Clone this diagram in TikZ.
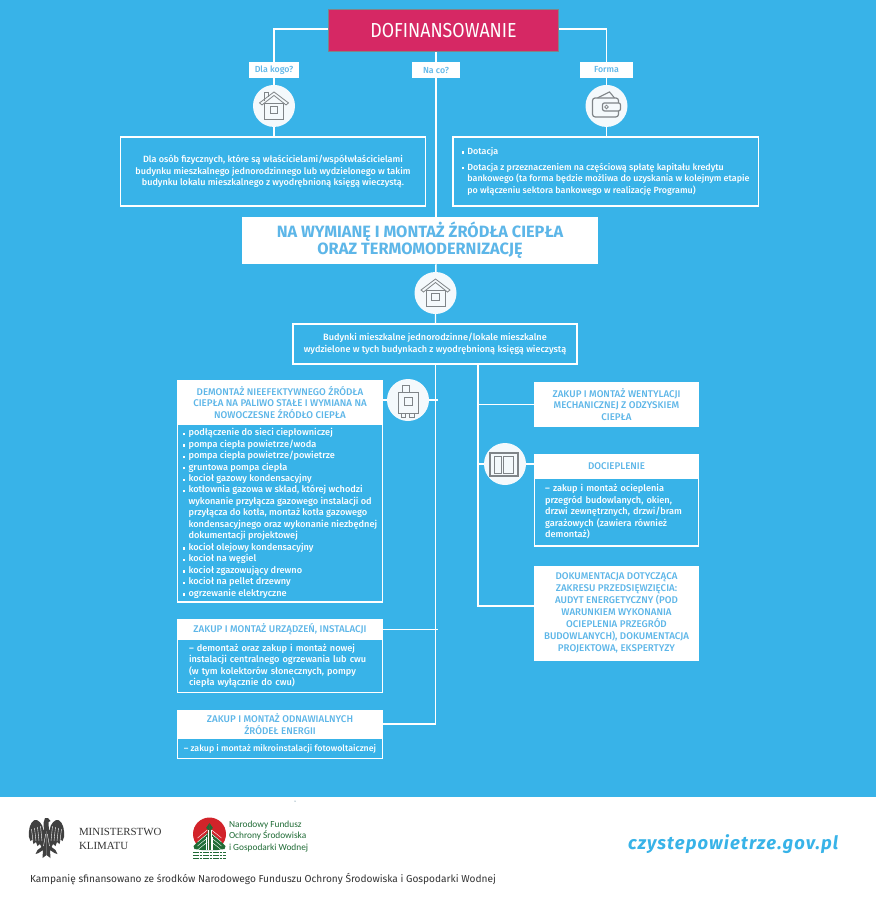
\documentclass[tikz,border=0pt]{standalone}
\usepackage{fontspec}
\setmainfont{Fira Sans}
\newfontfamily\medfont{Fira Sans Medium}
\newfontfamily\titlefont[FakeStretch=0.88]{Fira Sans}
\newfontfamily\urlfont[LetterSpace=6]{Fira Sans}
\newfontfamily\minfont{Liberation Serif}
\newfontfamily\fundfont{Carlito}
\usetikzlibrary{positioning}
\definecolor{sky}{HTML}{38B3E8}
\definecolor{capsblue}{HTML}{5DB6E8}
\definecolor{berry}{HTML}{D62864}
\definecolor{icongray}{HTML}{7F8488}
\definecolor{iconfill}{HTML}{F4F9FC}
\definecolor{fundgreen}{HTML}{1F6B35}
\definecolor{fundred}{HTML}{D2232A}
\newcommand{\itm}{\rule[0.4pt]{1.7pt}{1.7pt}\hspace{2.6pt}}
\newcommand{\hang}{\hspace{4.3pt}}
\tikzset{
    pics/homeicon/.style={code={
        \draw[icongray, line width=0.6pt] (-9.5,-13) rectangle (9.5,3);
        \fill[iconfill] (-14.5,3) -- (0,14) -- (14.5,3) -- (12,1) -- (0,10.5) -- (-12,1) -- cycle;
        \draw[icongray, line width=0.6pt] (-14.5,3) -- (0,14) -- (14.5,3) -- (12,1) -- (0,10.5) -- (-12,1) -- cycle;
        \draw[icongray, line width=0.6pt] (-3.7,-7.5) rectangle (3.7,-0.2);
    }}
}
\begin{document}
\begin{tikzpicture}[
    x=0.75pt, y=0.75pt,
    node distance=0pt,
    every node/.style={outer sep=0pt, inner sep=1pt},
    link/.style={draw=white, line width=1.1pt},
    question/.style={fill=white, text=capsblue, minimum height=12pt, font=\medfont\fontsize{6.6}{8}\selectfont},
    iconcircle/.style={circle, fill=iconfill, minimum size=31.5pt},
    plainbox/.style={draw=white, line width=1.1pt, fill=sky, text=white, align=center, font=\medfont\fontsize{6.8}{8.9}\selectfont},
    head/.style={fill=white, text=capsblue, align=center, font=\medfont\fontsize{7.3}{8.6}\selectfont},
    bodybox/.style={draw=white, line width=1.1pt, fill=sky, text=white, align=left, font=\medfont\fontsize{6.9}{8.6}\selectfont},
    icon/.style={draw=icongray, line width=0.7pt}
]
\useasboundingbox (0,0) rectangle (876,-900);
\fill[sky] (0,0) rectangle (876,-797);
\fill[white] (0,-797) rectangle (876,-900);

% Top of the tree
\node[fill=berry, draw=icongray, line width=0.7pt, minimum width=173pt, minimum height=32pt, text=white, font=\titlefont\fontsize{15.2}{16}\selectfont] (title) at (443.5,-30.5) {DOFINANSOWANIE};
\node[question, minimum width=37.5pt] (askwho) at (274,-70) {Dla kogo?};
\node[question, minimum width=36pt] (askwhat) at (436,-70) {Na co?};
\node[question, minimum width=40pt] (askform) at (606.5,-70) {Forma};
\node[iconcircle, below=5.2pt of askwho] (homeA) {};
\node[iconcircle, below=5.2pt of askform] (wallet) {};
\node[plainbox, minimum width=229pt, minimum height=52pt] (whobox) at (273,-171.5) {Dla osób fizycznych, które są właścicielami/współwłaścicielami\\budynku mieszkalnego jednorodzinnego lub wydzielonego w takim\\budynku lokalu mieszkalnego z wyodrębnioną księgą wieczystą.};
\node[plainbox, align=left, minimum width=229pt, minimum height=52pt, font=\medfont\fontsize{6.7}{8.9}\selectfont] (formbox) at (605.6,-171.5) {\itm Dotacja\\[3pt]\itm Dotacja z przeznaczeniem na częściową spłatę kapitału kredytu\\\hang bankowego (ta forma będzie możliwa do uzyskania w kolejnym etapie\\\hang po włączeniu sektora bankowego w realizację Programu)};

% Main heading
\node[fill=white, text=capsblue, align=center, minimum width=267pt, minimum height=35pt, font=\bfseries\fontsize{12.25}{12.6}\selectfont] (grant) at (420,-240.5) {NA WYMIANĘ I MONTAŻ ŹRÓDŁA CIEPŁA\hspace{3pt}\\ORAZ TERMOMODERNIZACJĘ};
\node[iconcircle] (homeB) at (435.5,-293) {};
\node[plainbox, minimum width=213pt, minimum height=30pt, font=\medfont\fontsize{6.85}{8.9}\selectfont] (buildings) at (435,-344) {Budynki mieszkalne jednorodzinne/lokale mieszkalne\\wydzielone w tych budynkach z wyodrębnioną księgą wieczystą};
\coordinate (branch) at (478,-364);

% Left column
\node[head, anchor=north, minimum width=154.5pt, minimum height=33.4pt] (boilerhead) at (280,-380) {DEMONTAŻ NIEEFEKTYWNEGO ŹRÓDŁA\\CIEPŁA NA PALIWO STAŁE I WYMIANA NA\\NOWOCZESNE ŹRÓDŁO CIEPŁA};
\node[bodybox, below=0pt of boilerhead, minimum width=153.5pt, minimum height=133pt] (boilerbody) {\itm podłączenie do sieci ciepłowniczej\\\itm pompa ciepła powietrze/woda\\\itm pompa ciepła powietrze/powietrze\\\itm gruntowa pompa ciepła\\\itm kocioł gazowy kondensacyjny\\\itm kotłownia gazowa w skład, której wchodzi\\\hang wykonanie przyłącza gazowego instalacji od\\\hang przyłącza do kotła, montaż kotła gazowego\\\hang kondensacyjnego oraz wykonanie niezbędnej\\\hang dokumentacji projektowej\\\itm kocioł olejowy kondensacyjny\\\itm kocioł na węgiel\\\itm kocioł zgazowujący drewno\\\itm kocioł na pellet drzewny\\\itm ogrzewanie elektryczne};
\node[iconcircle] (boiler) at (408,-400) {};
\node[head, below=12.7pt of boilerbody, minimum width=154.5pt, minimum height=15.7pt] (devhead) {ZAKUP I MONTAŻ URZĄDZEŃ, INSTALACJI};
\node[bodybox, below=0pt of devhead, minimum width=153.5pt, minimum height=39.7pt, text width=136.5pt] (devbody) {– demontaż oraz zakup i montaż nowej\\instalacji centralnego ogrzewania lub cwu\\(w tym kolektorów słonecznych, pompy\\ciepła wyłącznie do cwu)};
\node[head, below=12.7pt of devbody, minimum width=154.5pt, minimum height=21.7pt] (renewhead) {ZAKUP I MONTAŻ ODNAWIALNYCH\\ŹRÓDEŁ ENERGII};
\node[bodybox, below=0pt of renewhead, minimum width=153.5pt, minimum height=15pt, font=\medfont\fontsize{6.6}{8.6}\selectfont] (renewbody) {– zakup i montaż mikroinstalacji fotowoltaicznej};

% Right column
\node[head, anchor=north, minimum width=123.7pt, minimum height=33.7pt] (fanhead) at (616.5,-382) {ZAKUP I MONTAŻ WENTYLACJI\\MECHANICZNEJ Z ODZYSKIEM\\CIEPŁA};
\node[head, below=20.2pt of fanhead, minimum width=123.7pt, minimum height=18pt] (warmhead) {DOCIEPLENIE};
\node[bodybox, below=0pt of warmhead, minimum width=122.7pt, minimum height=51pt, text width=107pt] (warmbody) {– zakup i montaż ocieplenia\\przegród budowlanych, okien,\\drzwi zewnętrznych, drzwi/bram\\garażowych (zawiera również\\demontaż)};
\node[iconcircle] (window) at (505,-464) {};
\node[head, below=15pt of warmbody, minimum width=123.7pt, minimum height=71.2pt, font=\medfont\fontsize{7.3}{9}\selectfont] (docs) {DOKUMENTACJA DOTYCZĄCA\\ZAKRESU PRZEDSIĘWZIĘCIA:\\AUDYT ENERGETYCZNY (POD\\WARUNKIEM WYKONANIA\\OCIEPLENIA PRZEGRÓD\\BUDOWLANYCH), DOKUMENTACJA\\PROJEKTOWA, EKSPERTYZY};

% Connectors
\draw[link] ([yshift=1.1pt]title.west) -| (askwho);
\draw[link] ([yshift=1.1pt]title.east) -| (askform);
\draw[link] (askwho) -- (homeA) -- (homeA |- whobox.north);
\draw[link] (askform) -- (wallet) -- (wallet |- formbox.north);
\draw[link] (title.south -| askwhat) -- (askwhat) -- (askwhat |- grant.north);
\draw[link] (askwhat |- grant.south) -- (homeB) -- (homeB |- buildings.north);
\draw[link] (homeB |- buildings.south) |- (renewhead.east);
\draw[link] (boilerhead.east |- boiler) -- (boiler) -- ([xshift=1.5pt]boiler -| homeB);
\draw[link] (devhead.east) -- ([xshift=1.5pt]devhead.east -| homeB);
\draw[link] (branch) |- (fanhead.west);
\draw[link] (branch) |- ([yshift=5.6pt]docs.west);
\draw[link] (window -| branch) -- (window) -- (window -| warmhead.west);

% Icons
\pic at (homeA) {homeicon};
\draw[icon, line width=0.6pt] ([shift={(-10,5)}]homeA.center) -- ++(0,9) -- ++(4,0) -- ++(0,-5);
\pic at (homeB) {homeicon};
\begin{scope}[shift={(wallet)}]
\draw[icon, line width=0.9pt, rounded corners=2pt] (12,-5) -- (12,-11) -- (-14,-11) -- (-14,8) -- (12,8) -- (12,3);
\draw[icon, line width=0.8pt] (-9,8) -- (3,14) -- (8,8);
\draw[icon, line width=0.9pt, rounded corners=1.5pt] (-4,-5) rectangle (14,3);
\draw[icon, line width=0.6pt] (0,-1) circle (1.8);
\end{scope}
\begin{scope}[shift={(boiler)}]
\draw[icon] (-10,8) rectangle (10,-13);
\draw[icon] (-5.7,8) rectangle (1,14.7);
\draw[icon] (-4,-5.3) rectangle (4,2.7);
\draw[icon] (-6.7,-13) -- (-6.7,-17) -- (-2.3,-17) -- (-2.3,-13);
\draw[icon] (1.7,-13) -- (1.7,-17) -- (6,-17) -- (6,-13);
\end{scope}
\begin{scope}[shift={(window)}]
\draw[icongray, line width=1.6pt] (-14.7,-12) rectangle (12.7,11);
\draw[icongray, line width=1pt] (-10.7,-9.7) rectangle (-3.7,7.7);
\draw[icongray, line width=1pt] (-1.3,-9.7) rectangle (8.7,7.7);
\end{scope}

% Footer: eagle
\foreach \sgn in {1,-1}{
\begin{scope}[shift={(46.5,-838)}, xscale=\sgn]
\fill[black!75] (0,8) -- (3,8) .. controls (4,15) and (9,19) .. (12,18) .. controls (17,15) and (18,8) .. (17.5,1) -- (16,-3) -- (14,-1.5) -- (13,-6) -- (10.5,-4) -- (9,-8) -- (6.5,-6) -- (5,-9) -- (9,-12) -- (11,-16) -- (8,-15) -- (3.5,-12) -- (4,-20) -- (0,-17) -- cycle;
\foreach \fx in {6,9,12,15} \draw[white, line width=0.3pt] (\fx,14-\fx/3) -- (\fx-1.5,-3);
\draw[white, line width=0.3pt] (0.8,4) -- (3,-8);
\end{scope}}
\fill[black!75] (44,-831) -- (43.5,-823) -- (45,-818) -- (48,-818) -- (50.5,-821) -- (48.5,-822) -- (49,-831) -- cycle;
\node[anchor=west, align=left, inner sep=0pt, text=black!80, font=\minfont\fontsize{8.2}{10.5}\selectfont] (ministry) at (79,-839) {MINISTERSTWO\\KLIMATU};
% Footer: fund logo
\fill[fundred] (209.5,-834) circle[radius=16.5];
\fill[white] (193,-850) rectangle (226,-858);
\foreach \sgn in {1,-1}{
\begin{scope}[shift={(209.5,-850)}, xscale=\sgn]
\fill[fundgreen] (0,27) -- (3.5,22) -- (2,21) -- (2,17) -- (12,8) -- (16,4) -- (15,1) -- (8,0) -- (0,0) -- cycle;
\foreach \ly in {6,10,14,18} \draw[white, line width=0.3pt] (2.2,\ly+2) -- (12,\ly-6);
\draw[white, line width=0.4pt] (1.5,0) -- (1.5,20);
\draw[white, line width=0.4pt] (3.2,0) -- (3.2,13);
\end{scope}}
\foreach \ly in {852,855,858} \draw[fundgreen, line width=0.7pt, dash pattern=on 2pt off 0.5pt] (193,-\ly) -- (226,-\ly);
\node[anchor=west, align=left, inner sep=0pt, text=fundgreen, font=\fundfont\fontsize{7}{8.7}\selectfont] (fund) at (229,-836.5) {Narodowy Fundusz\\Ochrony Środowiska\\i Gospodarki Wodnej};
\node[anchor=west, inner sep=0pt, text=sky, font=\urlfont\bfseries\itshape\fontsize{13.8}{16}\selectfont] (url) at (628,-844) {czystepowietrze.gov.pl};
\node[anchor=west, inner sep=0pt, text=black!80, font=\fontsize{7.6}{8}\selectfont] (credit) at (30,-879) {Kampanię sfinansowano ze środków Narodowego Funduszu Ochrony Środowiska i Gospodarki Wodnej};
\fill[sky!50!black] (295,-801) circle[radius=0.5];
\end{tikzpicture}
\end{document}
